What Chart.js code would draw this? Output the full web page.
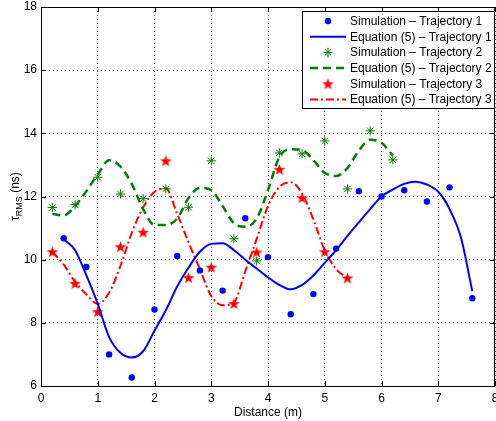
<!DOCTYPE html>
<html>
<head>
<meta charset="utf-8">
<script src="https://cdn.jsdelivr.net/npm/chart.js@4.4.0/dist/chart.umd.min.js"></script>
<style>
  html, body { margin: 0; padding: 0; background: #fff; }
  #wrap { width: 496px; height: 421px; }
</style>
</head>
<body>
<div id="wrap"><canvas id="myChart" width="496" height="421"></canvas></div>
<script>
// simulated points (distance in m, tau_RMS in ns)
var dist1 = [0.4, 0.8, 1.2, 1.6, 2.0, 2.4, 2.8, 3.2, 3.6, 4.0, 4.4, 4.8, 5.2, 5.6, 6.0, 6.4, 6.8, 7.2, 7.6];
var sim1  = [10.68, 9.77, 7.0, 6.27, 8.42, 10.12, 9.66, 9.02, 11.31, 10.08, 8.27, 8.91, 10.35, 12.17, 12.0, 12.2, 11.84, 12.29, 8.78];

var dist2 = [0.2, 0.6, 1.0, 1.4, 1.8, 2.2, 2.6, 3.0, 3.4, 3.8, 4.2, 4.6, 5.0, 5.4, 5.8, 6.2];
var sim2  = [11.65, 11.74, 12.61, 12.08, 11.93, 12.24, 11.66, 13.13, 10.66, 9.96, 13.38, 13.35, 13.76, 12.24, 14.08, 13.16];

var dist3 = [0.2, 0.6, 1.0, 1.4, 1.8, 2.2, 2.6, 3.0, 3.4, 3.8, 4.2, 4.6, 5.0, 5.4];
var sim3  = [10.25, 9.25, 8.35, 10.41, 10.87, 13.13, 9.43, 9.76, 8.61, 10.24, 12.86, 11.96, 10.25, 9.42];

// equation (5) curves, every 0.2 m
var eqDist1 = [0.4, 0.6, 0.8, 1.0, 1.2, 1.4, 1.6, 1.8, 2.0, 2.2, 2.4, 2.6, 2.8, 3.0, 3.2, 3.4, 3.6, 3.8, 4.0, 4.2, 4.4, 4.6, 4.8, 5.0, 5.2, 5.4, 5.6, 5.8, 6.0, 6.2, 6.4, 6.6, 6.8, 7.0, 7.2, 7.4, 7.6];
var eq1     = [10.65, 10.3, 9.5, 8.6, 7.55, 7.05, 6.9, 7.1, 7.75, 8.4, 9.15, 9.75, 10.25, 10.5, 10.52, 10.3, 10.0, 9.72, 9.44, 9.2, 9.06, 9.2, 9.5, 9.9, 10.3, 10.75, 11.18, 11.6, 12.0, 12.22, 12.4, 12.47, 12.38, 12.15, 11.6, 10.7, 9.0];

var eqDist2 = [0.2, 0.4, 0.6, 0.8, 1.0, 1.2, 1.4, 1.6, 1.8, 2.0, 2.2, 2.4, 2.6, 2.8, 3.0, 3.2, 3.4, 3.6, 3.8, 4.0, 4.2, 4.4, 4.6, 4.8, 5.0, 5.2, 5.4, 5.6, 5.8, 6.0, 6.2];
var eq2     = [11.45, 11.4, 11.7, 12.17, 12.7, 13.15, 12.95, 12.4, 11.6, 11.1, 11.1, 11.3, 11.95, 12.27, 12.2, 11.7, 11.15, 11.04, 11.3, 12.2, 13.25, 13.5, 13.47, 13.15, 12.75, 12.65, 12.9, 13.45, 13.8, 13.7, 13.3];

var eqDist3 = [0.2, 0.4, 0.6, 0.8, 1.0, 1.2, 1.4, 1.6, 1.8, 2.0, 2.2, 2.4, 2.6, 2.8, 3.0, 3.2, 3.4, 3.6, 3.8, 4.0, 4.2, 4.4, 4.6, 4.8, 5.0, 5.2, 5.4];
var eq3     = [10.25, 9.85, 9.3, 8.9, 8.6, 8.95, 9.8, 10.85, 11.65, 12.15, 12.25, 11.45, 10.55, 9.7, 8.85, 8.56, 8.65, 9.63, 10.65, 11.7, 12.3, 12.45, 12.1, 11.27, 10.3, 9.7, 9.41];

var seriesLabels = ["Simulation \u2013 Trajectory 1", "Equation (5) \u2013 Trajectory 1",
                    "Simulation \u2013 Trajectory 2", "Equation (5) \u2013 Trajectory 2",
                    "Simulation \u2013 Trajectory 3", "Equation (5) \u2013 Trajectory 3"];
var xTicks = [0, 1, 2, 3, 4, 5, 6, 7, 8];
var yTicks = [6, 8, 10, 12, 14, 16, 18];

var FONT = "'Liberation Sans', Arial, Helvetica, sans-serif";

function pts(xs, ys) {
    return xs.map(function(x, i){ return {x: x, y: ys[i]}; });
}

// filled five point star, used as point style for trajectory 3
function makeStar(r, color) {
    var s = Math.ceil(r * 2) + 2;
    var c = document.createElement('canvas');
    c.width = s; c.height = s;
    var g = c.getContext('2d');
    g.fillStyle = color;
    g.beginPath();
    for (var i = 0; i < 10; i++) {
        var rad = (i % 2 === 0) ? r : r * 0.4;
        var a = -Math.PI / 2 + i * Math.PI / 5;
        var px = s / 2 + rad * Math.cos(a), py = s / 2 + rad * Math.sin(a) + 0.6;
        if (i === 0) g.moveTo(px, py); else g.lineTo(px, py);
    }
    g.closePath();
    g.fill();
    return c;
}
var redStar = makeStar(6.2, '#ff0000');

// box, inward ticks, axis titles and legend
var decor = {
    id: 'decor',
    afterDraw: function(chart) {
        var ctx = chart.ctx, a = chart.chartArea;
        var xs = chart.scales.x, ys = chart.scales.y;
        ctx.save();
        ctx.strokeStyle = '#000';
        ctx.lineWidth = 1;
        ctx.setLineDash([]);
        ctx.beginPath();
        xTicks.forEach(function(t){
            var px = Math.round(xs.getPixelForValue(t)) + 0.5;
            ctx.moveTo(px, a.bottom); ctx.lineTo(px, a.bottom - 5);
            ctx.moveTo(px, a.top); ctx.lineTo(px, a.top + 5);
        });
        yTicks.forEach(function(t){
            var py = Math.round(ys.getPixelForValue(t)) + 0.5;
            ctx.moveTo(a.left, py); ctx.lineTo(a.left + 5, py);
            ctx.moveTo(a.right, py); ctx.lineTo(a.right - 5, py);
        });
        ctx.stroke();
        ctx.strokeRect(Math.round(a.left) + 0.5, Math.round(a.top) + 0.5,
                       Math.round(a.right - a.left) - 1, Math.round(a.bottom - a.top));

        // x title
        ctx.fillStyle = '#000';
        ctx.font = '12px ' + FONT;
        ctx.textAlign = 'center';
        ctx.textBaseline = 'middle';
        ctx.fillText('Distance (m)', (a.left + a.right) / 2, 413);

        // y title with subscript
        ctx.save();
        ctx.translate(15.5, (a.top + a.bottom) / 2);
        ctx.rotate(-Math.PI / 2);
        ctx.textAlign = 'left';
        ctx.font = '12px ' + FONT;
        var w1 = ctx.measureText('\u03c4').width;
        var w3 = ctx.measureText(' (ns)').width;
        ctx.font = '9px ' + FONT;
        var w2 = ctx.measureText('RMS').width;
        var x0 = -(w1 + w2 + w3) / 2;
        ctx.font = '12px ' + FONT;
        ctx.fillText('\u03c4', x0, 0);
        ctx.font = '9px ' + FONT;
        ctx.fillText('RMS', x0 + w1, 4.5);
        ctx.font = '12px ' + FONT;
        ctx.fillText(' (ns)', x0 + w1 + w2, 0);
        ctx.restore();

        // legend
        var bx = 302, by = 11, bw = 192, bh = 97;
        ctx.fillStyle = '#fff';
        ctx.fillRect(bx, by, bw, bh);
        ctx.strokeStyle = '#000';
        ctx.lineWidth = 1;
        ctx.strokeRect(bx + 0.5, by + 0.5, bw, bh);
        ctx.font = '12px ' + FONT;
        ctx.textAlign = 'left';
        ctx.textBaseline = 'middle';
        chart.data.datasets.forEach(function(ds, i){
            var cy = 21 + i * 15.7;
            var cx = 328;
            ctx.save();
            if (ds.showLine) {
                ctx.strokeStyle = ds.borderColor;
                ctx.lineWidth = ds.borderWidth;
                ctx.setLineDash(ds.borderDash || []);
                ctx.beginPath();
                ctx.moveTo(310, cy); ctx.lineTo(346, cy);
                ctx.stroke();
            } else if (ds.pointStyle === 'circle') {
                ctx.fillStyle = ds.backgroundColor;
                ctx.beginPath();
                ctx.arc(cx, cy, ds.pointRadius, 0, Math.PI * 2);
                ctx.fill();
            } else if (ds.pointStyle === 'star') {
                ctx.strokeStyle = ds.borderColor;
                ctx.lineWidth = ds.borderWidth;
                var r = ds.pointRadius;
                ctx.beginPath();
                for (var k = 0; k < 4; k++) {
                    var ang = k * Math.PI / 4;
                    ctx.moveTo(cx - r * Math.cos(ang), cy - r * Math.sin(ang));
                    ctx.lineTo(cx + r * Math.cos(ang), cy + r * Math.sin(ang));
                }
                ctx.stroke();
            } else {
                ctx.drawImage(ds.pointStyle, cx - ds.pointStyle.width / 2, cy - ds.pointStyle.height / 2);
            }
            ctx.restore();
            ctx.fillStyle = '#000';
            ctx.fillText(ds.label, 350, cy + 0.5);
        });
        ctx.restore();
    }
};

var ctx = document.getElementById("myChart").getContext('2d');
var myChart = new Chart(ctx, {
    type: 'scatter',
    data: {
        datasets: [
            {
                label: seriesLabels[0], data: pts(dist1, sim1), showLine: false,
                pointStyle: 'circle', pointRadius: 3.2, backgroundColor: '#0000ff', borderColor: '#0000ff', borderWidth: 0
            },
            {
                label: seriesLabels[1], data: pts(eqDist1, eq1), showLine: true,
                borderColor: '#0000ff', borderWidth: 2, pointRadius: 0, cubicInterpolationMode: 'monotone'
            },
            {
                label: seriesLabels[2], data: pts(dist2, sim2), showLine: false,
                pointStyle: 'star', pointRadius: 4.6, borderColor: '#008000', backgroundColor: '#008000', borderWidth: 1
            },
            {
                label: seriesLabels[3], data: pts(eqDist2, eq2), showLine: true,
                borderColor: '#008000', borderWidth: 2.5, borderDash: [8, 5], pointRadius: 0, cubicInterpolationMode: 'monotone'
            },
            {
                label: seriesLabels[4], data: pts(dist3, sim3), showLine: false,
                pointStyle: redStar, pointRadius: 6, backgroundColor: '#ff0000', borderColor: '#ff0000'
            },
            {
                label: seriesLabels[5], data: pts(eqDist3, eq3), showLine: true,
                borderColor: '#ff0000', borderWidth: 2, borderDash: [8, 3, 2, 3], pointRadius: 0, cubicInterpolationMode: 'monotone'
            }
        ]
    },
    options: {
        responsive: false,
        animation: false,
        devicePixelRatio: 1,
        layout: { autoPadding: false, padding: { top: 7, right: 1, left: 0, bottom: 0 } },
        plugins: { legend: { display: false }, tooltip: { enabled: false } },
        scales: {
            x: {
                type: 'linear', min: 0, max: 8,
                afterFit: function(s){ s.height = 35; s.paddingLeft = 0; s.paddingRight = 0; },
                afterBuildTicks: function(s){ s.ticks = xTicks.map(function(v){ return {value: v}; }); },
                ticks: { color: '#000', padding: 5, font: { family: FONT, size: 12 } },
                grid: { color: '#666', drawTicks: false },
                border: { display: false, dash: [1, 3] }
            },
            y: {
                type: 'linear', min: 6, max: 18,
                afterFit: function(s){ s.width = 41; s.paddingTop = 0; s.paddingBottom = 0; },
                afterBuildTicks: function(s){ s.ticks = yTicks.map(function(v){ return {value: v}; }); },
                ticks: { color: '#000', padding: 4, font: { family: FONT, size: 12 } },
                grid: { color: '#666', drawTicks: false },
                border: { display: false, dash: [1, 3] }
            }
        }
    },
    plugins: [decor]
});
</script>
</body>
</html>
